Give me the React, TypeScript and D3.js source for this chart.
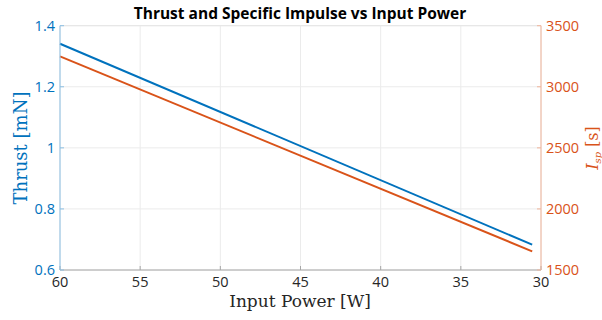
import React from "react";
import * as d3 from "d3";

const powerW = [60, 30.55];
const thrustMN = [1.341, 0.683];
const ispS = [3249, 1653];
const xTicks = [60, 55, 50, 45, 40, 35, 30];
const thrustTicks = [0.6, 0.8, 1, 1.2, 1.4];
const ispTicks = [1500, 2000, 2500, 3000, 3500];

const W = 602, H = 320;
const M = { left: 60, right: 541, top: 25.7, bottom: 270 };
const BLUE = "#0072BD";
const ORANGE = "#D95319";
const SANS = "'Open Sans', 'Noto Sans', sans-serif";
const SERIF = "'DejaVu Serif', 'Liberation Serif', serif";

export default function App() {
  const x = d3.scaleLinear().domain([60, 30]).range([M.left, M.right]);
  const yL = d3.scaleLinear().domain([0.6, 1.4]).range([M.bottom, M.top]);
  const yR = d3.scaleLinear().domain([1500, 3500]).range([M.bottom, M.top]);
  const lineL = d3.line<number>().x((_, i) => x(powerW[i])).y((d) => yL(d));
  const lineR = d3.line<number>().x((_, i) => x(powerW[i])).y((d) => yR(d));
  const fmt = (v: number) => String(v);

  return (
    <svg width={W} height={H} style={{ position: "absolute", left: 0, top: 0, background: "#fff" }}>
      <rect x={0} y={0} width={W} height={H} fill="#fff" />
      {/* grid */}
      {xTicks.map((t) => (
        <line key={"gx" + t} x1={x(t)} x2={x(t)} y1={M.top} y2={M.bottom} stroke="#ebebeb" strokeWidth={1} />
      ))}
      {thrustTicks.map((t) => (
        <line key={"gy" + t} x1={M.left} x2={M.right} y1={yL(t)} y2={yL(t)} stroke="#ebebeb" strokeWidth={1} />
      ))}
      {/* top box line */}
      <line x1={M.left} x2={M.right} y1={M.top} y2={M.top} stroke="#e6e6e6" strokeWidth={1} />
      {/* data */}
      <path d={lineR(ispS) || ""} fill="none" stroke={ORANGE} strokeWidth={2} />
      <path d={lineL(thrustMN) || ""} fill="none" stroke={BLUE} strokeWidth={2} />
      {/* bottom axis */}
      <line x1={M.left} x2={M.right} y1={M.bottom} y2={M.bottom} stroke="#a6a6a6" strokeWidth={1} />
      {xTicks.map((t) => (
        <g key={"xt" + t}>
          <line x1={x(t)} x2={x(t)} y1={M.bottom} y2={M.bottom - 4} stroke="#a6a6a6" />
          <text x={x(t)} y={M.bottom + 17} textAnchor="middle" fontFamily={SANS} fontSize={14.5} fill="#262626">
            {fmt(t)}
          </text>
        </g>
      ))}
      {/* left axis */}
      <line x1={M.left} x2={M.left} y1={M.top} y2={M.bottom} stroke="#8cbfe3" strokeWidth={1} />
      {thrustTicks.map((t) => (
        <g key={"yl" + t}>
          <line x1={M.left} x2={M.left + 4} y1={yL(t)} y2={yL(t)} stroke="#8cbfe3" />
          <text x={M.left - 5} y={yL(t)} dy="0.35em" textAnchor="end" fontFamily={SANS} fontSize={14.5} fill={BLUE}>
            {fmt(t)}
          </text>
        </g>
      ))}
      {/* right axis */}
      <line x1={M.right} x2={M.right} y1={M.top} y2={M.bottom} stroke="#f0b49a" strokeWidth={1} />
      {ispTicks.map((t) => (
        <g key={"yr" + t}>
          <line x1={M.right - 4} x2={M.right} y1={yR(t)} y2={yR(t)} stroke="#f0b49a" />
          <text x={M.right + 5} y={yR(t)} dy="0.35em" textAnchor="start" fontFamily={SANS} fontSize={14.5} fill={ORANGE}>
            {fmt(t)}
          </text>
        </g>
      ))}
      {/* title */}
      <text x={300} y={19} textAnchor="middle" fontFamily={SANS} fontWeight="bold" fontSize={15.5} fill="#000">
        Thrust and Specific Impulse vs Input Power
      </text>
      {/* x label */}
      <text x={300} y={307} textAnchor="middle" fontFamily={SERIF} fontSize={17} fill="#262626">
        Input Power [W]
      </text>
      {/* left label */}
      <text transform={`translate(27,148) rotate(-90)`} textAnchor="middle" fontFamily={SERIF} fontSize={18} fill={BLUE}>
        Thrust [mN]
      </text>
      {/* right label */}
      <text transform={`translate(598,148) rotate(-90)`} textAnchor="middle" fontFamily={SERIF} fontSize={16} fill={ORANGE}>
        <tspan fontStyle="italic">I</tspan>
        <tspan fontStyle="italic" fontSize={10} dy={3}>sp</tspan>
        <tspan dy={-3}> [s]</tspan>
      </text>
    </svg>
  );
}
